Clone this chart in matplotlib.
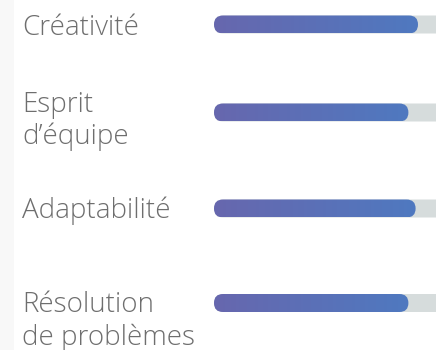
import matplotlib
matplotlib.use("Agg")
import matplotlib.pyplot as plt
import numpy as np
from matplotlib.colors import to_rgb
from matplotlib.patches import FancyBboxPatch, Rectangle

# skill values (percent of the full track)
labels = ["Créativité", "Esprit\nd’équipe", "Adaptabilité", "Résolution\nde problèmes"]
values = [85, 81, 84, 81]

W, H = 436, 350
fig = plt.figure(figsize=(W / 100, H / 100), dpi=100)
fig.patch.set_facecolor("white")

# faint left strip
fig.patches.append(Rectangle((0, 0), 14 / W, 1, transform=fig.transFigure,
                             facecolor="#f8f8f8", edgecolor="none", zorder=0))

# bars axes: x in percent (0 -> 214px, 100 -> 454px), y in pixels
x0_px, track_px = 214, 240
ax = fig.add_axes([x0_px / W, 0, track_px / W, 1])
ax.set_xlim(0, 100)
ax.set_ylim(H, 0)
ax.axis("off")

row_y = [24.5, 112.5, 208.5, 303]   # bar centres (px)
bar_h = 18
px_per_unit = track_px / 100
r_x = bar_h / 2 / px_per_unit
c_left, c_right = np.array(to_rgb("#6767ae")), np.array(to_rgb("#4f79c0"))

for yc, v in zip(row_y, values):
    y0 = yc - bar_h / 2
    track = FancyBboxPatch((0, y0), 100 + 20, bar_h,
                           boxstyle=f"round,pad=0,rounding_size={r_x}",
                           mutation_aspect=px_per_unit,
                           facecolor="#d6dcdc", edgecolor="none", clip_on=False)
    ax.add_patch(track)
    bar = FancyBboxPatch((0, y0), v, bar_h,
                         boxstyle=f"round,pad=0,rounding_size={r_x}",
                         mutation_aspect=px_per_unit,
                         facecolor="none", edgecolor="none")
    ax.add_patch(bar)
    t = np.linspace(0, 1, 256)[:, None]
    grad = (c_left * (1 - t) + c_right * t)[None, :, :]
    im = ax.imshow(grad, extent=(0, v, y0 + bar_h, y0), aspect="auto",
                   interpolation="bilinear", zorder=3)
    im.set_clip_path(bar)

# labels: text axes in pixel units, one text per line
tax = fig.add_axes([0, 0, 1, 1])
tax.set_xlim(0, W)
tax.set_ylim(H, 0)
tax.axis("off")
first_baseline = [35, 112, 218, 312]   # px
line_step = [0, 32, 0, 33]
for lab, yb, step in zip(labels, first_baseline, line_step):
    for i, line in enumerate(lab.split("\n")):
        tax.text(22, yb + i * step, line, fontsize=20,
                 family=["Open Sans", "DejaVu Sans"], fontweight="light",
                 color="#6e6e6e", va="baseline", ha="left")

fig.savefig("out.png", dpi=100, facecolor="white")
